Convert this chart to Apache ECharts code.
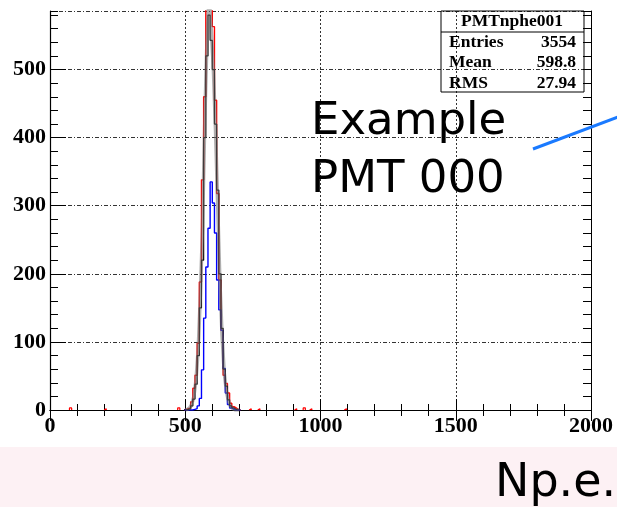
<!DOCTYPE html>
<html>
<head>
<meta charset="utf-8">
<script src="https://cdn.jsdelivr.net/npm/echarts@6/dist/echarts.min.js"></script>
<style>html,body{margin:0;padding:0;background:#fff}#c{width:617px;height:507px}</style>
</head>
<body>
<div id="c"></div>
<script>
// ---- data ----
const binStart = [496,504,512,520,528,536,544,552,560,568,576,584,592,600,608,616,624,632,640,648,656,664,672,680,688,696];
const binWidth = 8;
const redVals   = [1,2,3,12,32,51,98,188,338,460,600,650,620,563,455,318,191,117,51,39,25,10,5,3,1,0];
const blueVals  = [0,0,0,0,1,2,6,17,59,135,210,267,335,304,260,191,147,117,61,25,8,3,1,0,0,0];
const blackVals = [0,1,2,6,16,38,80,150,220,400,520,580,543,500,420,323,200,120,60,35,15,6,3,1,0,0];
const grayVals  = [0,1,3,8,20,45,90,170,270,420,540,610,560,500,410,300,190,110,55,28,12,5,2,0,0,0];
const redTailStart = [72,200,472,736,768,904,936,960,1088];
const redTailVals  = [3,2,3,2,2,2,3,2,2];
const xTicks = [0,500,1000,1500,2000];
const yTicks = [0,100,200,300,400,500];
const statsTitle = 'PMTnphe001';
const statsRows = [['Entries','3554'],['Mean','598.8'],['RMS','27.94']];
const yMax = 586;

function histPts(vals){
  const pts=[[binStart[0],0]];
  vals.forEach((v,i)=>{pts.push([binStart[i],v]);pts.push([binStart[i]+binWidth,v]);});
  pts.push([binStart[binStart.length-1]+binWidth,0]);
  return pts;
}
function tailPts(starts, vals){
  const pts=[];
  starts.forEach((a,i)=>{pts.push([a,0],[a,vals[i]],[a+binWidth,vals[i]],[a+binWidth,0],[a+binWidth,'-']);});
  return pts;
}
function polyPts(vals){ return vals.map((v,i)=>[binStart[i]+binWidth/2,v]); }

const serif = 'Liberation Serif, Times New Roman, serif';
const labelStyle = {fontFamily: serif, fontWeight:'bold', fontSize:22, color:'#000'};

const chart = echarts.init(document.getElementById('c'), null, {renderer:'canvas'});
const lineSeries = (name, data, color, width) => ({
  name, type:'line', data, xAxisIndex:0, yAxisIndex:0, showSymbol:false, symbol:'none',
  clip:true, animation:false, connectNulls:false, lineStyle:{color, width}, silent:true
});

chart.setOption({
  animation:false,
  backgroundColor:'#fff',
  grid:{left:50,right:26,top:11,bottom:97,containLabel:false,outerBoundsMode:'none'},
  xAxis:[{
    type:'value', min:xTicks[0], max:xTicks[xTicks.length-1], interval:500, position:'bottom',
    axisLine:{show:true,lineStyle:{color:'#000',width:1.2}},
    axisTick:{show:true,inside:true,length:11,lineStyle:{color:'#000'}},
    minorTick:{show:true,splitNumber:5,length:6,lineStyle:{color:'#000'}},
    axisLabel:Object.assign({margin:5,formatter:v=>String(v)},labelStyle),
    splitLine:{show:true,lineStyle:{color:'#333',width:1,type:[2,2]}}
  },{
    type:'value', min:xTicks[0], max:xTicks[xTicks.length-1], interval:500, position:'top',
    axisLine:{show:true,lineStyle:{color:'#000',width:1}},
    axisTick:{show:true,inside:true,length:11,lineStyle:{color:'#000'}},
    minorTick:{show:true,splitNumber:5,length:6,lineStyle:{color:'#000'}},
    axisLabel:{show:false}, splitLine:{show:false}
  }],
  yAxis:[{
    type:'value', min:0, max:yMax, interval:100, position:'left',
    axisLine:{show:true,lineStyle:{color:'#000',width:1.2}},
    axisTick:{show:true,inside:true,length:16,lineStyle:{color:'#000'}},
    axisLabel:Object.assign({margin:4,showMaxLabel:false,formatter:v=>(yTicks.indexOf(v)>=0?String(v):'')},labelStyle),
    splitLine:{show:true,lineStyle:{color:'#333',width:1,type:[4,2,1,2]}}
  },{
    type:'value', min:0, max:yMax, interval:20, position:'left', alignTicks:false,
    axisLine:{show:false}, axisTick:{show:true,inside:true,length:8,lineStyle:{color:'#000'}},
    axisLabel:{show:false}, splitLine:{show:false}
  },{
    type:'value', min:0, max:yMax, interval:20, position:'right', alignTicks:false,
    axisLine:{show:true,lineStyle:{color:'#000',width:1}}, axisTick:{show:true,inside:true,length:8,lineStyle:{color:'#000'}},
    axisLabel:{show:false}, splitLine:{show:false}
  }],
  series:[
    lineSeries('redtail', tailPts(redTailStart, redTailVals), '#ff0000', 1.2),
    lineSeries('red', histPts(redVals), '#ff0000', 1.4),
    lineSeries('blue', histPts(blueVals), '#0000ff', 1.4),
    lineSeries('black', histPts(blackVals), '#000000', 1.2),
    lineSeries('gray', polyPts(grayVals), 'rgba(110,110,110,0.55)', 3.5)
  ],
  graphic:[
    {type:'rect', z:-10, silent:true, shape:{x:0,y:447,width:617,height:60}, style:{fill:'#fdf1f4'}},
    {type:'rect', z:50, silent:true, shape:{x:441,y:11,width:143,height:81}, style:{fill:'none',stroke:'#000',lineWidth:1}},
    {type:'line', z:50, silent:true, shape:{x1:441,y1:32,x2:584,y2:32}, style:{stroke:'#000',lineWidth:1}},
    {type:'text', z:51, silent:true, x:512, y:21, style:{text:statsTitle, font:'bold 17.5px '+serif, fill:'#000', align:'center', verticalAlign:'middle'}},
    ...statsRows.flatMap((r,i)=>[
      {type:'text', z:51, silent:true, x:449, y:42+i*20.5, style:{text:r[0], font:'bold 17.5px '+serif, fill:'#000', align:'left', verticalAlign:'middle'}},
      {type:'text', z:51, silent:true, x:576, y:42+i*20.5, style:{text:r[1], font:'bold 17.5px '+serif, fill:'#000', align:'right', verticalAlign:'middle'}}
    ]),
    {type:'text', z:60, silent:true, x:311, y:122, style:{text:'Example', font:'45px DejaVu Sans', fill:'#000', align:'left', verticalAlign:'middle'}},
    {type:'text', z:60, silent:true, x:311, y:180, style:{text:'PMT 000', font:'45px DejaVu Sans', fill:'#000', align:'left', verticalAlign:'middle'}},
    {type:'line', z:60, silent:true, shape:{x1:533,y1:149,x2:618,y2:117}, style:{stroke:'#1a7aff',lineWidth:3}},
    {type:'text', z:60, silent:true, x:495, y:484, style:{text:'Np.e.', font:'46px DejaVu Sans', fill:'#000', align:'left', verticalAlign:'middle'}}
  ]
});
</script>
</body>
</html>
